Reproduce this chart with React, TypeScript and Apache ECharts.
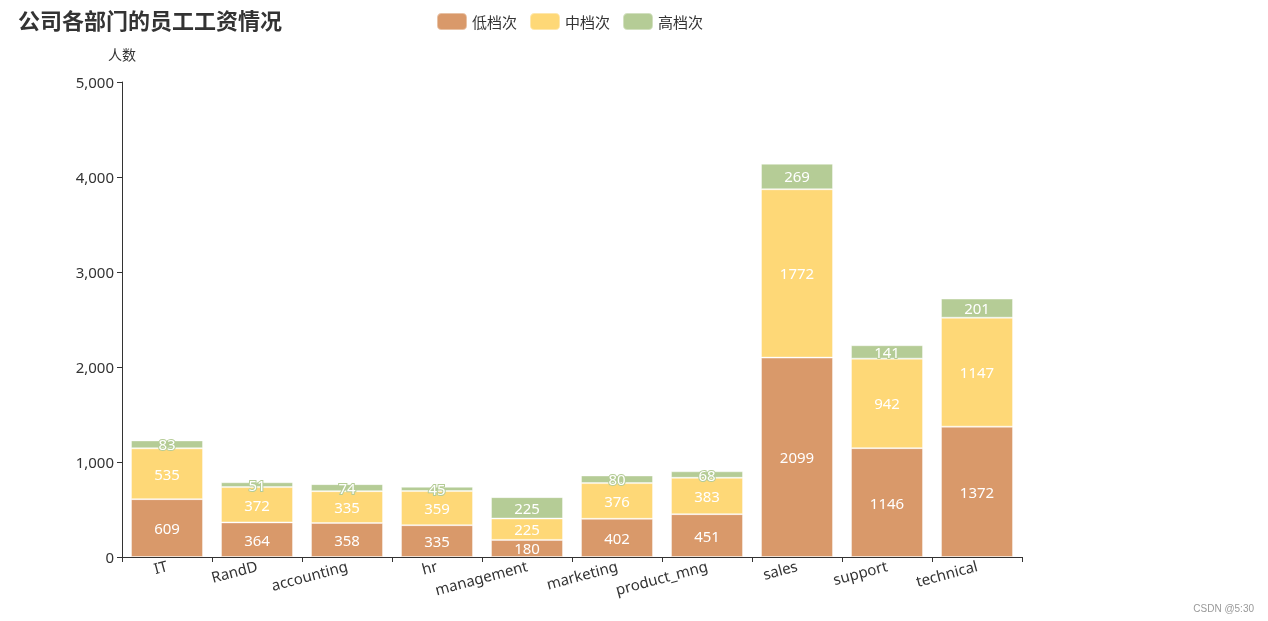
import React, { useEffect, useRef } from "react";
import * as echarts from "echarts";

const categories = ["IT", "RandD", "accounting", "hr", "management", "marketing", "product_mng", "sales", "support", "technical"];
const lowValues = [609, 364, 358, 335, 180, 402, 451, 2099, 1146, 1372];
const midValues = [535, 372, 335, 359, 225, 376, 383, 1772, 942, 1147];
const highValues = [83, 51, 74, 45, 225, 80, 68, 269, 141, 201];
const seriesNames = ["低档次", "中档次", "高档次"];
const colors = ["#d9996a", "#fed877", "#b5cc96"];

const FONT = "'Noto Sans', 'Noto Sans CJK SC', sans-serif";
const CJK = "'Noto Sans CJK SC', sans-serif";

export default function App() {
  const ref = useRef<HTMLDivElement>(null);
  useEffect(() => {
    if (!ref.current) return;
    const chart = echarts.init(ref.current, undefined, { renderer: "svg" });
    const data = [lowValues, midValues, highValues];
    chart.setOption({
      animation: false,
      textStyle: { fontFamily: FONT },
      color: colors,
      title: {
        text: "公司各部门的员工工资情况",
        left: 13,
        top: 3,
        textStyle: { fontSize: 22, fontWeight: "bold", color: "#333", fontFamily: CJK },
      },
      legend: {
        data: seriesNames,
        left: 431,
        top: 7,
        itemWidth: 30,
        itemHeight: 17,
        itemGap: 12,
        textStyle: { fontSize: 15, color: "#333", fontFamily: CJK },
      },
      grid: { left: 122, right: 246, top: 82, bottom: 64, containLabel: false },
      xAxis: {
        type: "category",
        data: categories,
        axisLine: { show: true, lineStyle: { color: "#333" } },
        axisTick: { show: true },
        axisLabel: { rotate: 15, interval: 0, fontSize: 15, color: "#333", margin: 8 },
      },
      yAxis: {
        type: "value",
        name: "人数",
        min: 0,
        max: 5000,
        interval: 1000,
        nameTextStyle: { fontSize: 14, color: "#333", fontFamily: CJK, padding: [0, 0, 6, 0] },
        axisLine: { show: true, lineStyle: { color: "#333" } },
        axisTick: { show: true },
        splitLine: { show: false },
        axisLabel: { fontSize: 15, color: "#333" },
      },
      graphic: [
        {
          type: "text",
          right: 14,
          bottom: 8,
          style: { text: "CSDN @5:30", fill: "#999", fontSize: 10, fontFamily: "Arial, sans-serif" },
        },
      ],
      series: seriesNames.map((name, i) => ({
        name,
        type: "bar",
        stack: "total",
        barCategoryGap: "20%",
        data: data[i],
        itemStyle: { color: colors[i], borderColor: "rgba(255,255,255,0.4)", borderWidth: 1 },
        label: {
          show: true,
          position: "inside",
          fontSize: 15,
          color: "#fff",
          textBorderColor: colors[i],
          textBorderWidth: 2,
        },
      })),
    });
    return () => chart.dispose();
  }, []);
  return <div ref={ref} style={{ position: "fixed", left: 0, top: 0, width: 1268, height: 621 }} />;
}
